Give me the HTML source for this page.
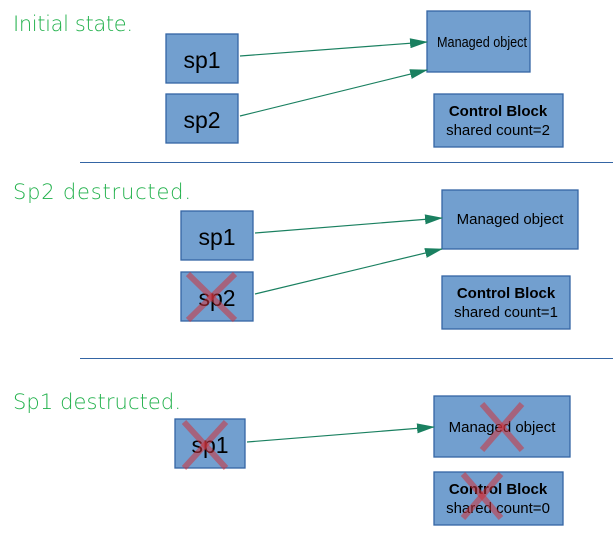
<!DOCTYPE html>
<html><head><style>
body{margin:0;background:#fff;}
svg{display:block;font-family:"Liberation Sans",sans-serif;}
</style></head><body>
<svg width="613" height="541" viewBox="0 0 613 541" xmlns="http://www.w3.org/2000/svg">
<defs><marker id="a" markerWidth="18" markerHeight="10" refX="17" refY="5" orient="auto" markerUnits="userSpaceOnUse"><path d="M0,0 L18,5 L0,10 z" fill="#1a8060"/></marker></defs>
<g fill="#22b14c" font-size="21" style="font-family:'DejaVu Sans',sans-serif;font-weight:200" >
<text x="13" y="31" textLength="120">Initial state.</text>
<text x="13" y="199" textLength="178">Sp2 destructed.</text>
<text x="13" y="409" textLength="168">Sp1 destructed.</text>
</g>
<g stroke="#3465a4" stroke-width="1.3" fill="#729fcf">
<rect x="166" y="34" width="72" height="49"/><rect x="166" y="94" width="72" height="49"/>
<rect x="427" y="11" width="103" height="61"/><rect x="434" y="94" width="129" height="53"/>
<rect x="181" y="211" width="72" height="49"/><rect x="181" y="272" width="72" height="49"/>
<rect x="442" y="190" width="136" height="59"/><rect x="442" y="276" width="128" height="53"/>
<rect x="175" y="419" width="70" height="49"/>
<rect x="434" y="396" width="136" height="61"/><rect x="434" y="472" width="129" height="53"/>
</g>
<g stroke="#3465a4" stroke-width="1"><line x1="80" y1="162.5" x2="613" y2="162.5"/><line x1="80" y1="358.5" x2="613" y2="358.5"/></g>
<g stroke="#1a8060" stroke-width="1.2" marker-end="url(#a)">
<line x1="240" y1="56" x2="427" y2="42"/><line x1="240" y1="116" x2="427" y2="70"/>
<line x1="255" y1="233" x2="442" y2="218"/><line x1="255" y1="294" x2="442" y2="249"/>
<line x1="247" y1="442" x2="434" y2="427"/>
</g>
<g fill="#000" text-anchor="middle">
<text x="202" y="68" font-size="23">sp1</text><text x="202" y="128" font-size="23">sp2</text>
<text x="482" y="47" font-size="15" textLength="90" lengthAdjust="spacingAndGlyphs">Managed object</text>
<text x="498" y="116" font-size="15" font-weight="bold">Control Block</text><text x="498" y="135" font-size="15">shared count=2</text>
<text x="217" y="245" font-size="23">sp1</text><text x="217" y="306" font-size="23">sp2</text>
<text x="510" y="224" font-size="15">Managed object</text>
<text x="506" y="298" font-size="15" font-weight="bold">Control Block</text><text x="506" y="317" font-size="15">shared count=1</text>
<text x="210" y="453" font-size="23">sp1</text>
<text x="502" y="432" font-size="15">Managed object</text>
<text x="498" y="494" font-size="15" font-weight="bold">Control Block</text><text x="498" y="513" font-size="15">shared count=0</text>
</g>
<g stroke="#d0313a" stroke-opacity="0.55" stroke-width="6">
<line x1="188" y1="274" x2="235" y2="320"/><line x1="235" y1="274" x2="188" y2="320"/>
<line x1="184" y1="422" x2="226" y2="468"/><line x1="226" y1="422" x2="184" y2="468"/>
<line x1="482" y1="404" x2="522" y2="450"/><line x1="522" y1="404" x2="482" y2="450"/>
<line x1="463" y1="474" x2="501" y2="518"/><line x1="501" y1="474" x2="463" y2="518"/>
</g>
</svg>
</body></html>
